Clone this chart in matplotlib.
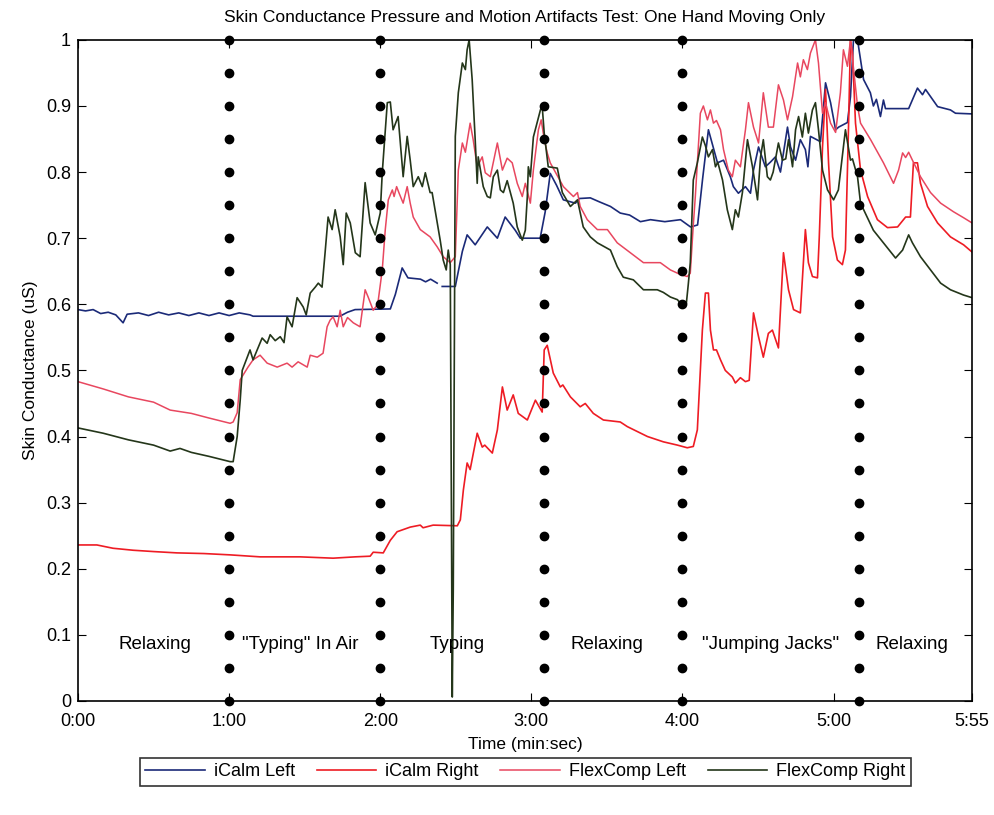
"""
Skin conductance comparison: iCalm wrist sensors vs FlexComp finger electrodes
while only one hand is moving. Activity boundaries are marked with dotted lines.
"""
import numpy as np
import matplotlib.pyplot as plt

plt.rcParams['font.family'] = ['Liberation Sans', 'DejaVu Sans']

# time in seconds, skin conductance in uS (normalized)
icalm_left_t = [0, 3, 6, 9, 12, 15, 17.9, 19.5, 24, 28, 32, 36, 40, 44, 48, 52, 56, 60, 64, 68.3,
                69.5, 85, 104, 107, 110, 124, 126, 128.7, 131, 136, 138, 140, 142.6, 143.5, 144.6,
                149.8, 152.6, 154.5, 157.7, 162.5, 166.5, 169.6, 173.6, 175.6, 180.4, 183.5, 185.5,
                187.5, 190, 192.7, 197.5, 199, 203.4, 207, 211.4, 215.3, 219, 223.3, 227.3, 233,
                239.2, 243.2, 246, 248, 250.3, 253.9, 256.3, 259, 260.2, 262.2, 265, 267, 268.2,
                270.2, 272.9, 274.9, 276.9, 278.9, 281.7, 282.9, 284.9, 286.8, 288.8, 289.8, 290.8,
                294.8, 296.8, 298.8, 300.8, 302, 305.5, 306.7, 307.9, 309.5, 311.9, 314.6, 315.8,
                317, 318.6, 319.8, 320.6, 329.8, 333.3, 335.3, 336.5, 341.3, 346.4, 348.4, 355]
icalm_left = [0.592, 0.59, 0.592, 0.586, 0.588, 0.584, 0.572, 0.585, 0.587, 0.583, 0.588, 0.584,
              0.587, 0.583, 0.587, 0.583, 0.587, 0.583, 0.587, 0.584, 0.582, 0.582, 0.582, 0.588,
              0.592, 0.593, 0.615, 0.655, 0.64, 0.638, 0.634, 0.638, 0.632, np.nan, 0.627, 0.627,
              0.68, 0.705, 0.69, 0.717, 0.70, 0.732, 0.712, 0.70, 0.70, 0.70, 0.74, 0.798, 0.78,
              0.758, 0.753, 0.76, 0.761, 0.755, 0.748, 0.738, 0.735, 0.725, 0.728, 0.725, 0.728,
              0.717, 0.72, 0.79, 0.864, 0.814, 0.818, 0.793, 0.778, 0.768, 0.778, 0.768, 0.803,
              0.838, 0.808, 0.815, 0.823, 0.80, 0.868, 0.838, 0.818, 0.849, 0.834, 0.808, 0.854,
              0.846, 0.935, 0.905, 0.864, 0.868, 0.875, 0.914, 1.0, 1.0, 0.94, 0.92, 0.90, 0.91,
              0.884, 0.909, 0.896, 0.896, 0.927, 0.917, 0.925, 0.899, 0.894, 0.889, 0.888]

icalm_right_t = [0, 7.5, 13.9, 21.9, 30, 39.3, 50, 60.4, 72.3, 88.2, 101.3, 110, 116, 117.2, 121.2,
                 124, 126.7, 131.9, 135.9, 137, 141, 150.6, 151.8, 153, 154.5, 155.7, 158.5, 160.5,
                 161.5, 164.5, 166.5, 168.5, 170.4, 172.8, 174.8, 178.4, 181.6, 184.3, 185.1, 186.3,
                 188.7, 191.5, 192.5, 195.5, 199.4, 201.4, 204.6, 208.6, 215.3, 218.1, 226.1, 232.4,
                 238, 241.9, 244.3, 245.9, 247.9, 249.1, 250.3, 251.1, 252.3, 253.5, 255.1, 257,
                 259.8, 261, 263, 265, 266.5, 268.2, 270.2, 272.1, 274.1, 275.7, 278.1, 280.1, 282.1,
                 284.1, 286.8, 288.8, 290, 291.6, 293.6, 294.3, 295.6, 296.8, 298, 299.6, 301.5,
                 303.5, 304.7, 305.9, 306.7, 307.5, 308.7, 310.7, 313.5, 317.4, 321.4, 325.4, 328.6,
                 330.5, 331.7, 333.3, 334.5, 337.3, 341.3, 346.4, 351.6, 355]
icalm_right = [0.236, 0.236, 0.231, 0.228, 0.226, 0.224, 0.223, 0.221, 0.218, 0.218, 0.216, 0.218,
               0.219, 0.225, 0.224, 0.243, 0.256, 0.263, 0.266, 0.262, 0.266, 0.265, 0.274, 0.319,
               0.36, 0.35, 0.405, 0.384, 0.387, 0.375, 0.41, 0.475, 0.44, 0.463, 0.435, 0.425,
               0.455, 0.437, 0.531, 0.538, 0.496, 0.475, 0.478, 0.46, 0.445, 0.45, 0.435, 0.425,
               0.422, 0.415, 0.40, 0.392, 0.387, 0.383, 0.385, 0.41, 0.561, 0.617, 0.617, 0.561,
               0.531, 0.531, 0.516, 0.50, 0.49, 0.481, 0.489, 0.483, 0.485, 0.587, 0.551, 0.52,
               0.556, 0.561, 0.534, 0.678, 0.622, 0.592, 0.587, 0.713, 0.663, 0.642, 0.64, 0.70,
               0.838, 0.925, 0.814, 0.702, 0.667, 0.66, 0.682, 0.864, 1.0, 0.98, 0.874, 0.803,
               0.763, 0.728, 0.716, 0.717, 0.732, 0.732, 0.814, 0.814, 0.783, 0.748, 0.723, 0.702,
               0.69, 0.679]

flex_left_t = [0, 10, 20, 30, 36.6, 45, 52, 60.4, 61.6, 63.2, 64.4, 67.5, 69.5, 72.3, 75.1, 79.1,
               83, 85, 87.4, 91, 92.2, 95, 97.3, 98.9, 100.1, 101.3, 102.9, 104.1, 105.3, 107,
               109.3, 112, 114, 115.2, 117.2, 119, 120.8, 122, 123.2, 124.8, 125.5, 126.5, 127.5,
               129.1, 130.7, 131.9, 133.1, 135.9, 139.8, 142.6, 145, 147.8, 149.8, 151, 152.6,
               153.8, 155.7, 156.9, 158.5, 160.5, 161.7, 163.7, 166.5, 168.5, 170.4, 172.4, 174.4,
               176.4, 177.6, 179.6, 180.8, 182.8, 183.9, 185.1, 186.3, 187.5, 192.7, 196.7, 198.3,
               199.4, 202.2, 206.2, 210.2, 214.1, 219.3, 224.5, 231.2, 235.2, 239.2, 241.9, 243.1,
               244.3, 245.1, 247.1, 248.3, 249.9, 251.1, 252.3, 253.5, 255.1, 256.3, 258.2, 259.8,
               261, 263, 265, 266.2, 268.2, 270.2, 272.1, 274.1, 276.1, 278.1, 280.1, 281.7, 283.7,
               285.7, 286.8, 288, 289.6, 290.8, 292.8, 294, 295.6, 296.8, 298.8, 300.8, 302.7,
               303.9, 305.5, 306.7, 309.5, 310.7, 314.7, 319.8, 323.8, 325.8, 327.4, 328.6, 329.8,
               331.3, 334.5, 338.5, 342.5, 347.6, 351.6, 355]
flex_left = [0.483, 0.472, 0.46, 0.452, 0.44, 0.435, 0.428, 0.42, 0.422, 0.436, 0.486, 0.505,
             0.516, 0.523, 0.511, 0.505, 0.511, 0.505, 0.513, 0.505, 0.523, 0.52, 0.526, 0.566,
             0.576, 0.581, 0.566, 0.591, 0.566, 0.58, 0.572, 0.566, 0.622, 0.611, 0.591, 0.60,
             0.652, 0.713, 0.758, 0.773, 0.763, 0.778, 0.768, 0.753, 0.778, 0.753, 0.732, 0.713,
             0.702, 0.687, 0.672, 0.663, 0.672, 0.803, 0.844, 0.83, 0.874, 0.849, 0.808, 0.823,
             0.799, 0.793, 0.844, 0.803, 0.821, 0.814, 0.783, 0.763, 0.783, 0.753, 0.803, 0.864,
             0.879, 0.85, 0.829, 0.814, 0.778, 0.763, 0.769, 0.748, 0.728, 0.713, 0.713, 0.693,
             0.678, 0.663, 0.663, 0.652, 0.645, 0.642, 0.647, 0.72, 0.763, 0.889, 0.90, 0.879,
             0.894, 0.874, 0.878, 0.864, 0.834, 0.803, 0.793, 0.818, 0.808, 0.864, 0.905, 0.868,
             0.844, 0.92, 0.868, 0.868, 0.932, 0.909, 0.879, 0.914, 0.965, 0.944, 0.97, 0.955,
             0.98, 1.0, 0.965, 0.889, 0.905, 0.874, 0.86, 0.92, 0.985, 0.96, 1.0, 0.90, 0.874,
             0.849, 0.814, 0.783, 0.803, 0.829, 0.822, 0.83, 0.818, 0.793, 0.769, 0.753, 0.74,
             0.731, 0.723]

flex_right_t = [0, 10, 20, 30, 36.6, 40.5, 45, 52, 60.4, 61.6, 63.2, 64.4, 65.2, 68.3, 69.5, 73.1,
                75.1, 76.3, 78.3, 80.3, 81.8, 83, 85, 87, 89.4, 90.6, 92.2, 94.2, 95.4, 96.9, 98.1,
                99.3, 100.9, 102.1, 104.1, 105.3, 106.5, 108.1, 110.1, 112, 114, 116, 118, 120,
                120.8, 122.8, 124, 125.1, 127.1, 129.1, 130.7, 131.9, 133.1, 135.1, 136.7, 137.9,
                139.8, 140.6, 143.8, 145, 146.2, 147, 147.8, 148.6, 149, 149.8, 151, 152.6, 153.8,
                154.5, 155.3, 156.5, 157.7, 158.5, 158.9, 160.9, 162.5, 163.7, 164.9, 166.5, 167.7,
                168.9, 170.4, 172.8, 174.4, 176.4, 177.6, 178.4, 178.8, 179.6, 180.8, 183.6, 184.3,
                185.1, 186.7, 190.3, 192.3, 195.5, 198.3, 200.6, 203.4, 206.2, 211.4, 214.1, 216.5,
                220.5, 224.5, 230, 232.4, 235.2, 238, 240.4, 241.5, 242.3, 243.1, 244.3, 245.9,
                247.9, 249.1, 250.3, 251.9, 253.1, 254, 255.9, 257.8, 259.8, 261, 262.2, 263.8,
                265.8, 267.8, 269.8, 271, 272.1, 273.7, 274.9, 276, 278.1, 279.7, 281, 282.1, 283.7,
                284.9, 286.1, 287.6, 288.8, 290, 291.6, 292.8, 294, 295.6, 297.6, 300, 301.9, 304.7,
                306.7, 307.5, 309.5, 310.7, 315.8, 319.8, 324.6, 327.4, 329.8, 331.3, 334.5, 338.5,
                342.5, 346.4, 351.6, 355]
flex_right = [0.413, 0.405, 0.395, 0.387, 0.378, 0.382, 0.376, 0.37, 0.362, 0.362, 0.40, 0.455,
              0.50, 0.531, 0.516, 0.549, 0.541, 0.554, 0.545, 0.551, 0.542, 0.581, 0.566, 0.61,
              0.596, 0.584, 0.617, 0.626, 0.632, 0.626, 0.678, 0.732, 0.713, 0.743, 0.702, 0.66,
              0.738, 0.723, 0.678, 0.672, 0.784, 0.723, 0.705, 0.738, 0.799, 0.905, 0.906, 0.864,
              0.884, 0.793, 0.854, 0.818, 0.778, 0.793, 0.778, 0.799, 0.769, 0.769, 0.697, 0.667,
              0.652, 0.682, 0.66, 0.006, 0.17, 0.854, 0.92, 0.965, 0.955, 0.985, 1.0, 0.94, 0.849,
              0.783, 0.823, 0.778, 0.763, 0.761, 0.793, 0.803, 0.773, 0.769, 0.787, 0.753, 0.717,
              0.697, 0.712, 0.763, 0.808, 0.793, 0.853, 0.894, 0.90, 0.859, 0.808, 0.806, 0.769,
              0.748, 0.758, 0.717, 0.702, 0.693, 0.682, 0.657, 0.641, 0.637, 0.622, 0.622, 0.618,
              0.611, 0.607, 0.596, 0.60, 0.63, 0.663, 0.788, 0.814, 0.853, 0.84, 0.823, 0.834,
              0.808, 0.815, 0.788, 0.743, 0.713, 0.743, 0.732, 0.769, 0.849, 0.808, 0.758, 0.823,
              0.849, 0.793, 0.788, 0.80, 0.844, 0.818, 0.82, 0.849, 0.808, 0.864, 0.884, 0.853,
              0.889, 0.859, 0.894, 0.905, 0.864, 0.803, 0.773, 0.758, 0.773, 0.864, 0.818, 0.82,
              0.793, 0.753, 0.712, 0.693, 0.67, 0.682, 0.705, 0.693, 0.672, 0.652, 0.632, 0.622,
              0.614, 0.61]

# activity boundaries (s) and the labels placed between them
boundaries = [60, 120, 185, 240, 310]
activities = ['Relaxing', '"Typing" In Air', 'Typing', 'Relaxing', '"Jumping Jacks"', 'Relaxing']
activity_x = [30.6, 88.2, 150.6, 210, 275, 331.3]

tick_seconds = [0, 60, 120, 180, 240, 300, 355]
tick_labels = ['0:00', '1:00', '2:00', '3:00', '4:00', '5:00', '5:55']


def plot_conductance():
    fig = plt.figure(figsize=(9.95, 8.15), dpi=100)
    ax = fig.add_axes([0.0784, 0.1399, 0.8986, 0.8112])

    ax.plot(icalm_left_t, icalm_left, color='#1b2a78', lw=1.2, label='iCalm Left')
    ax.plot(icalm_right_t, icalm_right, color='#ee1c24', lw=1.2, label='iCalm Right')
    ax.plot(flex_left_t, flex_left, color='#e8475f', lw=1.1, label='FlexComp Left')
    ax.plot(flex_right_t, flex_right, color='#24361a', lw=1.2, label='FlexComp Right')

    # dotted boundary markers, one dot every 0.05 uS
    dot_y = np.arange(0, 1.0001, 0.05)
    for b in boundaries:
        ax.plot([b] * len(dot_y), dot_y, 'o', color='black', ms=6,
                clip_on=False, zorder=5)

    for x, name in zip(activity_x, activities):
        ax.text(x, 0.085, name, ha='center', va='center', fontsize=13.5)

    ax.set_xlim(0, 355)
    ax.set_ylim(0, 1)
    ax.set_xticks(tick_seconds)
    ax.set_xticklabels(tick_labels)
    ax.set_yticks(np.arange(0, 1.01, 0.1))
    ax.set_yticklabels(['0', '0.1', '0.2', '0.3', '0.4', '0.5', '0.6', '0.7', '0.8', '0.9', '1'])
    ax.tick_params(direction='in', top=True, right=True, length=6, labelsize=13)
    ax.tick_params(axis='x', pad=9)
    ax.tick_params(axis='y', pad=5)
    for s in ax.spines.values():
        s.set_linewidth(1.2)

    ax.set_xlabel('Time (min:sec)', fontsize=12.5, labelpad=5)
    ax.set_ylabel('Skin Conductance (uS)', fontsize=12.5, labelpad=6)
    ax.set_title('Skin Conductance Pressure and Motion Artifacts Test: One Hand Moving Only',
                 fontsize=12.5, pad=13)

    leg = fig.legend(loc='center', bbox_to_anchor=(0.528, 0.053), ncol=4, fontsize=13,
                     frameon=True, fancybox=False, edgecolor='black', handlelength=3.3,
                     columnspacing=1.2, handletextpad=0.5, borderpad=0.3)
    leg.get_frame().set_linewidth(1.2)

    fig.savefig('out.png', dpi=100)
    plt.close(fig)


if __name__ == '__main__':
    plot_conductance()
